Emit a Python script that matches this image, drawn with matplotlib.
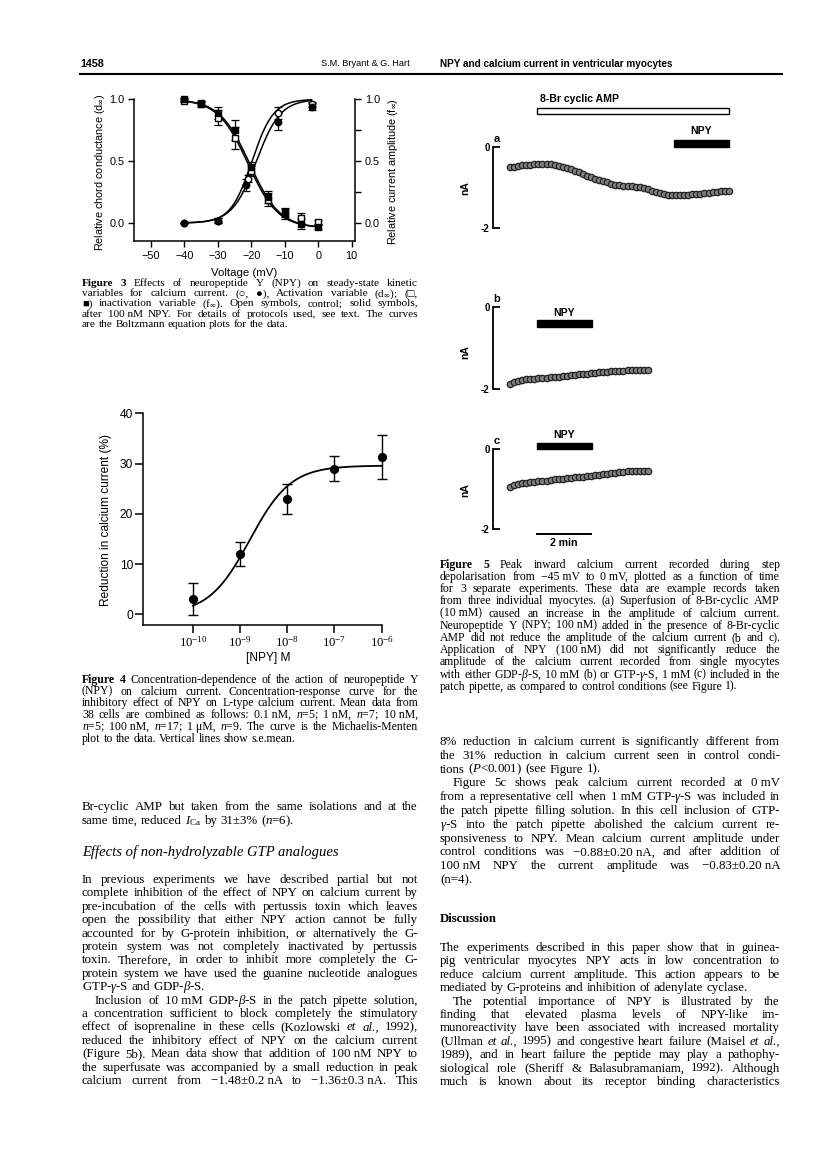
import numpy as np
import matplotlib
matplotlib.use('Agg')
import matplotlib.pyplot as plt
from matplotlib.transforms import blended_transform_factory
from matplotlib.patches import Rectangle
from matplotlib.lines import Line2D
from matplotlib.ticker import NullLocator

# ======================= DATA =======================
# Figure 3 : steady-state kinetics (voltage in mV)
inact_v = [-40, -35, -30, -25, -20, -15, -10, -5, 0]
inact_ctrl = [0.99, 0.96, 0.85, 0.69, 0.42, 0.19, 0.085, 0.04, 0.005]
inact_ctrl_err = [0.01, 0.02, 0.06, 0.09, 0.04, 0.05, 0.04, 0.04, 0.02]
inact_npy = [1.00, 0.97, 0.89, 0.75, 0.45, 0.21, 0.07, -0.005, -0.03]
inact_npy_err = [0.01, 0.02, 0.05, 0.08, 0.04, 0.05, 0.04, 0.04, 0.02]
act_v_ctrl = [-40, -30, -21, -12, -2]
act_ctrl = [0.0, 0.02, 0.36, 0.89, 0.96]
act_ctrl_err = [0.0, 0.02, 0.03, 0.05, 0.02]
act_v_npy = [-40, -30, -21.5, -12, -2]
act_npy = [0.0, 0.02, 0.31, 0.82, 0.94]
act_npy_err = [0.0, 0.02, 0.05, 0.07, 0.03]
# Boltzmann fit parameters (V_half, slope factor)
act_fit_ctrl = (-19.8, 3.2)
act_fit_npy = (-18.5, 3.6)
inact_fit_ctrl = (-21.0, 4.5)
inact_fit_npy = (-20.5, 4.5)
inact_floor = -0.04
fig3_xticks = [-50, -40, -30, -20, -10, 0, 10]
fig3_yticks = [0.0, 0.5, 1.0]

# Figure 4 : concentration-response
npy_conc = [1e-10, 1e-9, 1e-8, 1e-7, 1e-6]
npy_conc_labels = [r'$10^{-10}$', r'$10^{-9}$', r'$10^{-8}$', r'$10^{-7}$', r'$10^{-6}$']
npy_reduction = [3.1, 12.0, 23.0, 29.0, 31.3]
npy_sem = [3.2, 2.4, 3.0, 2.5, 4.3]
mm_max, mm_ec50 = 29.6, 1.6e-9
fig4_yticks = [0, 10, 20, 30, 40]

# Figure 5 : peak current (nA) vs time, one sample every 0.15 min
trace_step = 0.15
trace_a = [-0.51, -0.49, -0.47, -0.46, -0.45, -0.44, -0.43, -0.43, -0.42, -0.43,
           -0.43, -0.45, -0.47, -0.50, -0.53, -0.56, -0.60, -0.63, -0.67, -0.71,
           -0.74, -0.79, -0.83, -0.85, -0.88, -0.91, -0.93, -0.95, -0.96, -0.97,
           -0.97, -0.98, -0.99, -1.01, -1.04, -1.08, -1.12, -1.14, -1.16, -1.18,
           -1.19, -1.19, -1.19, -1.18, -1.18, -1.17, -1.16, -1.16, -1.15, -1.13,
           -1.12, -1.11, -1.10, -1.08, -1.10]
trace_b = [-1.86, -1.82, -1.79, -1.77, -1.76, -1.75, -1.74, -1.73, -1.72, -1.72,
           -1.71, -1.70, -1.69, -1.68, -1.67, -1.65, -1.64, -1.63, -1.62, -1.62,
           -1.61, -1.60, -1.59, -1.58, -1.57, -1.56, -1.56, -1.55, -1.55, -1.54,
           -1.54, -1.53, -1.52, -1.53, -1.54]
trace_c = [-0.93, -0.89, -0.86, -0.85, -0.84, -0.82, -0.81, -0.80, -0.79, -0.78,
           -0.76, -0.75, -0.74, -0.73, -0.72, -0.71, -0.70, -0.69, -0.68, -0.67,
           -0.66, -0.65, -0.64, -0.62, -0.61, -0.59, -0.58, -0.57, -0.56, -0.55,
           -0.545, -0.54, -0.53, -0.53, -0.53]
camp_period = (1.0, 8.1)
npy_period_a = (6.07, 8.1)
npy_period_bc = (1.0, 3.03)
scale_bar_min = (1.0, 3.0)

# ======================= TEXT =======================
header_page = '1458'
header_authors = 'S.M. Bryant & G. Hart'
header_title = 'NPY and calcium current in ventricular myocytes'

fig3_ylabel_left = r'Relative chord conductance (d$_{\infty}$)'
fig3_ylabel_right = r'Relative current amplitude (f$_{\infty}$)'
fig3_xlabel = 'Voltage (mV)'
fig4_ylabel = 'Reduction in calcium current (%)'
fig4_xlabel = '[NPY] M'

fig3_caption = [
    '**Figure **3 Effects of neuropeptide Y (NPY) on steady-state kinetic',
    'variables for calcium current. (○, ●), Activation variable (d$_{\\infty}$); (□,',
    '■) inactivation variable (f$_{\\infty}$). Open symbols, control; solid symbols,',
    'after 100\u00a0nM NPY. For details of protocols used, see text. The curves',
    'are the Boltzmann equation plots for the data.',
]
fig4_caption = [
    '**Figure **4 Concentration-dependence of the action of neuropeptide Y',
    '(NPY) on calcium current. Concentration-response curve for the',
    'inhibitory effect of NPY on L-type calcium current. Mean data from',
    '38 cells are combined as follows: 0.1\u00a0nM, $n$=5; 1\u00a0nM, $n$=7; 10\u00a0nM,',
    '$n$=5; 100\u00a0nM, $n$=17; 1\u00a0μM, $n$=9. The curve is the Michaelis-Menten',
    'plot to the data. Vertical lines show s.e.mean.',
]
fig5_caption = [
    '**Figure **5 Peak inward calcium current recorded during step',
    'depolarisation from −45\u00a0mV to 0\u00a0mV, plotted as a function of time',
    'for 3 separate experiments. These data are example records taken',
    'from three individual myocytes. (a) Superfusion of 8-Br-cyclic AMP',
    '(10\u00a0mM) caused an increase in the amplitude of calcium current.',
    'Neuropeptide Y (NPY; 100\u00a0nM) added in the presence of 8-Br-cyclic',
    'AMP did not reduce the amplitude of the calcium current (b and c).',
    'Application of NPY (100\u00a0nM) did not significantly reduce the',
    'amplitude of the calcium current recorded from single myocytes',
    'with either GDP-$\\beta$-S, 10\u00a0mM (b) or GTP-$\\gamma$-S, 1\u00a0mM (c) included in the',
    'patch pipette, as compared to control conditions (see Figure 1).',
]
left_par0 = [
    'Br-cyclic AMP but taken from the same isolations and at the',
    'same time, reduced $I_{\\mathrm{Ca}}$ by 31±3% ($n$=6).',
]
left_heading = 'Effects of non-hydrolyzable GTP analogues'
left_par1 = [
    'In previous experiments we have described partial but not',
    'complete inhibition of the effect of NPY on calcium current by',
    'pre-incubation of the cells with pertussis toxin which leaves',
    'open the possibility that either NPY action cannot be fully',
    'accounted for by G-protein inhibition, or alternatively the G-',
    'protein system was not completely inactivated by pertussis',
    'toxin. Therefore, in order to inhibit more completely the G-',
    'protein system we have used the guanine nucleotide analogues',
    'GTP-$\\gamma$-S and GDP-$\\beta$-S.',
]
left_par2 = [
    'Inclusion of 10\u00a0mM GDP-$\\beta$-S in the patch pipette solution,',
    'a concentration sufficient to block completely the stimulatory',
    'effect of isoprenaline in these cells (Kozlowski __et __al., 1992),',
    'reduced the inhibitory effect of NPY on the calcium current',
    '(Figure 5b). Mean data show that addition of 100\u00a0nM NPY to',
    'the superfusate was accompanied by a small reduction in peak',
    'calcium current from −1.48±0.2\u00a0nA to −1.36±0.3\u00a0nA. This',
]
right_par0 = [
    '8% reduction in calcium current is significantly different from',
    'the 31% reduction in calcium current seen in control condi-',
    'tions ($P$<0.001) (see Figure 1).',
]
right_par1 = [
    'Figure 5c shows peak calcium current recorded at 0\u00a0mV',
    'from a representative cell when 1\u00a0mM GTP-$\\gamma$-S was included in',
    'the patch pipette filling solution. In this cell inclusion of GTP-',
    '$\\gamma$-S into the patch pipette abolished the calcium current re-',
    'sponsiveness to NPY. Mean calcium current amplitude under',
    'control conditions was −0.88±0.20\u00a0nA, and after addition of',
    '100\u00a0nM NPY the current amplitude was −0.83±0.20\u00a0nA',
    '(n=4).',
]
disc_heading = 'Discussion'
disc_par0 = [
    'The experiments described in this paper show that in guinea-',
    'pig ventricular myocytes NPY acts in low concentration to',
    'reduce calcium current amplitude. This action appears to be',
    'mediated by G-proteins and inhibition of adenylate cyclase.',
]
disc_par1 = [
    'The potential importance of NPY is illustrated by the',
    'finding that elevated plasma levels of NPY-like im-',
    'munoreactivity have been associated with increased mortality',
    '(Ullman __et __al., 1995) and congestive heart failure (Maisel __et __al.,',
    '1989), and in heart failure the peptide may play a pathophy-',
    'siological role (Sheriff & Balasubramaniam, 1992). Although',
    'much is known about its receptor binding characteristics',
]

# ======================= SETUP =======================
plt.rcParams.update({
    'mathtext.fontset': 'custom',
    'mathtext.rm': 'Liberation Serif',
    'mathtext.it': 'Liberation Serif:italic',
    'mathtext.bf': 'Liberation Serif:bold',
    'font.family': ['Liberation Sans', 'DejaVu Sans'],
    'axes.linewidth': 1.1,
})
SERIF = ['Liberation Serif', 'DejaVu Serif', 'DejaVu Sans']
NARROW = ['Liberation Sans Narrow', 'Liberation Sans']

W, H = 816, 1157
fig = plt.figure(figsize=(W / 100, H / 100), dpi=100)
fig.patch.set_facecolor('white')
R = fig.canvas.get_renderer()


def fx(x):
    return x / W


def fy(y):
    return 1 - y / H


def add_ax(x0, y0, x1, y1):
    return fig.add_axes([x0 / W, 1 - y1 / H, (x1 - x0) / W, (y1 - y0) / H])


def measure(t):
    return t.get_window_extent(renderer=R).width


def tok_style(tk):
    if tk.startswith('**'):
        return tk[2:], 'bold', 'normal'
    if tk.startswith('__'):
        return tk[2:], 'normal', 'italic'
    return tk, 'normal', 'normal'


_space = {}


def space_w(size):
    key = round(size, 3)
    if key not in _space:
        a = fig.text(0, 0, 'x x', fontsize=size, family=SERIF)
        b = fig.text(0, 0, 'xx', fontsize=size, family=SERIF)
        _space[key] = measure(a) - measure(b)
        a.remove(); b.remove()
    return _space[key]


def word_width(s, w, st, size):
    t = fig.text(0, 0, s, fontsize=size, fontweight=w, fontstyle=st, family=SERIF)
    v = measure(t)
    t.remove()
    return v


def parse_line(line):
    # '**Figure **3' -> bold 'Figure' and bold '3'
    toks = [t for t in line.split(' ') if t]
    res = []
    i = 0
    while i < len(toks):
        tk = toks[i]
        if tk == '**Figure' and i + 1 < len(toks) and toks[i + 1].startswith('**'):
            res.append(('Figure', 'bold', 'normal'))
            res.append((toks[i + 1][2:], 'bold', 'normal'))
            i += 2
            continue
        res.append(tok_style(tk))
        i += 1
    return res


def draw_line(line, x0, x1, ycen, size, justify, min_gap=0.55):
    words = parse_line(line)
    s = size
    for _ in range(15):
        ws = [word_width(a, b, c, s) for a, b, c in words]
        sp = space_w(s)
        if not justify or len(words) < 2:
            gap = sp
            break
        gap = (x1 - x0 - sum(ws)) / (len(words) - 1)
        if gap >= min_gap * sp:
            break
        s *= 0.985
    ybase = ycen + 0.23 * s * 100 / 72
    x = x0
    for (a, b, c), w in zip(words, ws):
        fig.text(fx(x), fy(ybase), a, fontsize=s, fontweight=b, fontstyle=c,
                 family=SERIF, ha='left', va='baseline')
        x += w + gap


def draw_paras(paras, x0, x1, ys, size, indent):
    i = 0
    for lines, ind, cont in paras:
        for k, ln in enumerate(lines):
            last = (k == len(lines) - 1) and not cont
            xi = x0 + (indent if (k == 0 and ind) else 0)
            draw_line(ln, xi, x1, ys[i], size, not last)
            i += 1


def fit_text(s, x, y, width, ha='left', **kw):
    t = fig.text(fx(x), fy(y), s, fontsize=10, ha=ha, va='center', **kw)
    w = measure(t)
    t.set_fontsize(10 * width / w)
    return t


# ======================= HEADER =======================
fit_text(header_page, 80, 64, 24, family=NARROW, fontweight='bold')
fit_text(header_authors, 321, 64, 88, family=NARROW)
fit_text(header_title, 440, 64, 232, family=NARROW, fontweight='bold')
fig.add_artist(Line2D([fx(80), fx(782)], [fy(74), fy(74)], lw=1.5, color='black'))

# ======================= FIGURE 3 =======================
LAB3 = 7.8
ax3 = add_ax(134.3, 99.3, 355, 241)
ax3.set_xlim(-55, 11)
ax3.set_ylim(-0.145, 1.0)
ax3.spines['top'].set_visible(False)
ax3.spines['right'].set_visible(False)


def boltz_act(v, p):
    return 1 / (1 + np.exp((p[0] - v) / p[1]))


def boltz_inact(v, p):
    return (1 - inact_floor) / (1 + np.exp((v - p[0]) / p[1])) + inact_floor


va = np.linspace(-40, -2, 200)
vi = np.linspace(-40, 0, 200)
for p in (act_fit_ctrl, act_fit_npy):
    ax3.plot(va, boltz_act(va, p), color='black', lw=1.1, clip_on=False)
for p in (inact_fit_ctrl, inact_fit_npy):
    ax3.plot(vi, boltz_inact(vi, p), color='black', lw=1.1, clip_on=False)

ebkw = dict(fmt='none', ecolor='black', elinewidth=0.9, capsize=2.6, capthick=0.9, clip_on=False)
ax3.errorbar(inact_v, inact_ctrl, yerr=inact_ctrl_err, **ebkw)
ax3.errorbar(inact_v, inact_npy, yerr=inact_npy_err, **ebkw)
ax3.errorbar(act_v_ctrl, act_ctrl, yerr=act_ctrl_err, **ebkw)
ax3.errorbar(act_v_npy, act_npy, yerr=act_npy_err, **ebkw)
mk = dict(ms=4.6, mec='black', mew=1.0, ls='none', clip_on=False, zorder=5)
ax3.plot(inact_v, inact_ctrl, 's', mfc='white', **mk)
ax3.plot(act_v_ctrl, act_ctrl, 'o', mfc='white', **mk)
ax3.plot(inact_v, inact_npy, 's', mfc='black', **mk)
ax3.plot(act_v_npy, act_npy, 'o', mfc='black', **mk)

ax3.set_xticks(fig3_xticks)
ax3.set_yticks(fig3_yticks)
ax3.set_yticklabels(['%.1f' % v for v in fig3_yticks])
ax3.tick_params(direction='out', length=4, width=1.0, labelsize=LAB3, pad=3)
ax3r = ax3.twinx()
ax3r.set_ylim(ax3.get_ylim())
for s in ('top', 'left', 'bottom'):
    ax3r.spines[s].set_visible(False)
ax3r.spines['right'].set_linewidth(1.1)
ax3r.set_yticks(fig3_yticks)
ax3r.set_yticklabels(['%.1f' % v for v in fig3_yticks])
ax3r.set_yticks([0.25, 0.75], minor=True)
ax3r.tick_params(which='both', direction='out', length=4, width=1.0, labelsize=LAB3, pad=3)
fig.text(fx(100), fy(172), fig3_ylabel_left, rotation=90, ha='center', va='center', fontsize=LAB3)
fig.text(fx(393), fy(172), fig3_ylabel_right, rotation=90, ha='center', va='center', fontsize=LAB3)
fig.text(fx(244.5), fy(273), fig3_xlabel, ha='center', va='center', fontsize=8.2)

# ======================= FIGURE 4 =======================
LAB4 = 8.6
ax4 = add_ax(143.3, 413.3, 381.7, 625)
ax4.set_xscale('log')
ax4.set_xlim(10 ** -11.05, 1e-6)
ax4.set_ylim(-2.1, 40)
ax4.spines['top'].set_visible(False)
ax4.spines['right'].set_visible(False)
cc = np.logspace(-10, -6, 300)
ax4.plot(cc, mm_max * cc / (cc + mm_ec50), color='black', lw=1.3)
ax4.errorbar(npy_conc, npy_reduction, yerr=npy_sem, fmt='o', color='black', ms=5.6,
             elinewidth=1.0, capsize=3.6, capthick=1.0, clip_on=False, zorder=5)
ax4.set_xticks(npy_conc)
ax4.set_xticklabels(npy_conc_labels)
ax4.xaxis.set_minor_locator(NullLocator())
ax4.set_yticks(fig4_yticks)
ax4.tick_params(direction='out', length=6, width=1.1, labelsize=LAB4, pad=1.5)
ax4.tick_params(axis='x', labelsize=9.2)
fig.text(fx(105.7), fy(520), fig4_ylabel, rotation=90, ha='center', va='center', fontsize=LAB4)
fig.text(fx(268), fy(658), fig4_xlabel, ha='center', va='center', fontsize=LAB4)

# ======================= FIGURE 5 =======================
SP_X0, SP_X1 = 492.5, 745
T_LEFT, T_RIGHT = -0.65, 8.70
panels = [('a', trace_a, 146.7, 228.0, 188), ('b', trace_b, 307.3, 389.3, 351.7),
          ('c', trace_c, 449.3, 529.3, 490)]
axes5 = {}
for key, vals, ytop, ybot, ynA in panels:
    ax = add_ax(SP_X0, ytop, SP_X1, ybot)
    ax.set_xlim(T_LEFT, T_RIGHT)
    ax.set_ylim(-2, 0)
    for s in ('top', 'right', 'bottom'):
        ax.spines[s].set_visible(False)
    ax.spines['left'].set_linewidth(1.3)
    ax.set_xticks([])
    ax.set_yticks([0, -2])
    ax.set_yticklabels(['0', '-2'])
    ax.tick_params(axis='y', direction='in', length=5, width=1.3, labelsize=7, pad=2)
    for lab in ax.get_yticklabels():
        lab.set_fontweight('bold')
    ax.patch.set_visible(False)
    tt = np.arange(len(vals)) * trace_step
    ax.plot(tt, vals, 'o', ms=4.6, mfc='#808080', mec='#222222', mew=0.9, ls='none', clip_on=False)
    fig.text(fx(465), fy(ynA), 'nA', rotation=90, ha='center', va='center', fontsize=7.5, fontweight='bold')
    fig.text(fx(SP_X0 + 1), fy(ytop - 8), key, ha='left', va='center', fontsize=8, fontweight='bold')
    axes5[key] = ax


def bar(ax, t0, t1, ytop, ybot, fc):
    tr = blended_transform_factory(ax.transData, fig.transFigure)
    ax.add_patch(Rectangle((t0, fy(ybot)), t1 - t0, fy(ytop) - fy(ybot), transform=tr,
                           fc=fc, ec='black', lw=1.0, clip_on=False))


def label(ax, t, y, s, ha='center'):
    tr = blended_transform_factory(ax.transData, fig.transFigure)
    ax.text(t, fy(y), s, transform=tr, ha=ha, va='center', fontsize=7.6, fontweight='bold')


axa, axb, axc = axes5['a'], axes5['b'], axes5['c']
bar(axa, camp_period[0], camp_period[1], 108.3, 114, 'white')
label(axa, camp_period[0] + 0.1, 99.3, '8-Br cyclic AMP', ha='left')
bar(axa, npy_period_a[0], npy_period_a[1], 140, 146.5, 'black')
label(axa, sum(npy_period_a) / 2, 131.5, 'NPY')
bar(axb, npy_period_bc[0], npy_period_bc[1], 319.5, 326.8, 'black')
label(axb, sum(npy_period_bc) / 2, 312.5, 'NPY')
bar(axc, npy_period_bc[0], npy_period_bc[1], 442.8, 449.3, 'black')
label(axc, sum(npy_period_bc) / 2, 435, 'NPY')
trc = blended_transform_factory(axc.transData, fig.transFigure)
axc.add_line(Line2D(list(scale_bar_min), [fy(534.3)] * 2, transform=trc, color='black', lw=1.4, clip_on=False))
label(axc, sum(scale_bar_min) / 2, 543, '2 min')

# ======================= PAGE TEXT =======================
L0, L1 = 82, 418
R0, R1 = 440, 780
INDENT = 13
CAP3 = 8.1
CAP = 8.5
BODY = 9.3

draw_paras([(fig3_caption, False, False)], L0, L1, [283.5 + 10.2 * i for i in range(5)], CAP3, INDENT)
draw_paras([(fig4_caption, False, False)], L0, L1, [680 + 11.8 * i for i in range(6)], CAP, INDENT)
draw_paras([(fig5_caption, False, False)], R0, R1, [565 + 12.2 * i for i in range(11)], CAP, INDENT)

draw_paras([(left_par0, False, False)], L0, L1, [807, 821], BODY, INDENT)
fit_text(left_heading, L0, 852, 255, family=SERIF, fontstyle='italic')
draw_paras([(left_par1, False, False), (left_par2, True, True)], L0, L1,
           [880 + 13.4 * i for i in range(16)], BODY, INDENT)
draw_paras([(right_par0, False, False), (right_par1, True, False)], R0, R1,
           [742 + 13.8 * i for i in range(11)], BODY, INDENT)
fit_text(disc_heading, R0, 919, 57, family=SERIF, fontweight='bold')
draw_paras([(disc_par0, False, False), (disc_par1, True, True)], R0, R1,
           [948 + 13.4 * i for i in range(11)], BODY, INDENT)

fig.savefig('out.png', dpi=100, facecolor='white')
